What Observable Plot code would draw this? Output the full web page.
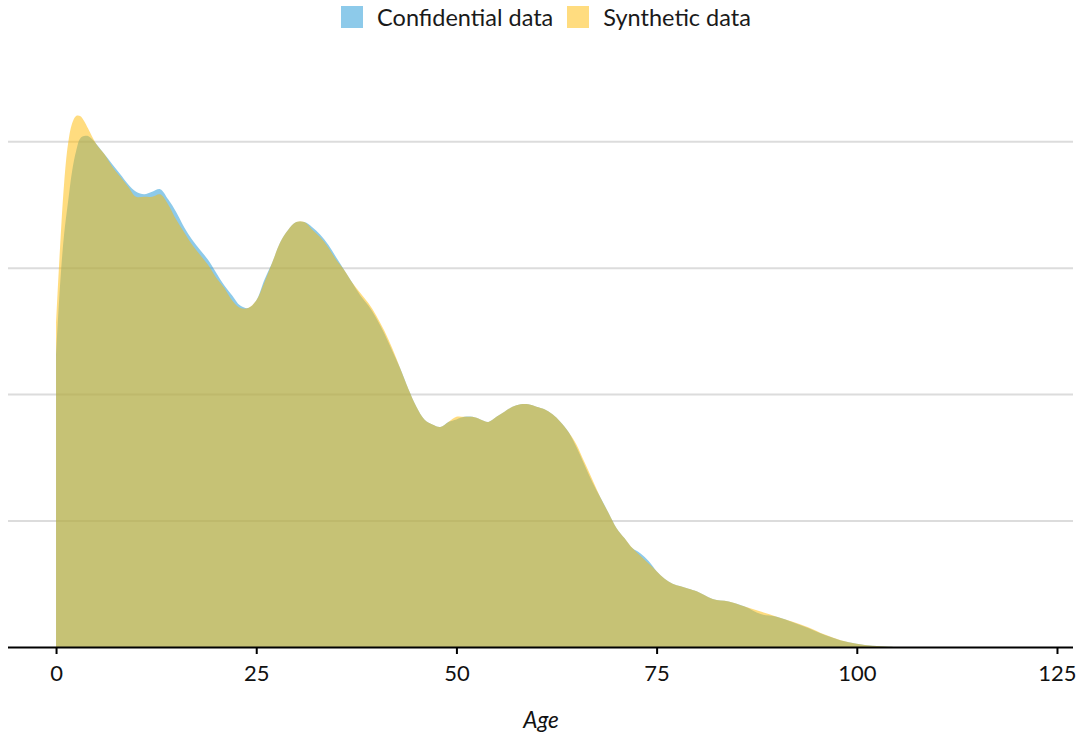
<!DOCTYPE html>
<html>
<head>
<meta charset="utf-8">
<script src="https://cdn.jsdelivr.net/npm/d3@7"></script>
<script src="https://cdn.jsdelivr.net/npm/@observablehq/plot@0.6"></script>
<style>
  body { margin: 0; background: #fff; font-family: Lato, "Noto Sans", sans-serif; }
  #wrap { position: relative; width: 1081px; height: 736px; overflow: hidden; }
  #legend {
    position: absolute; top: 6px; left: 0; width: 1081px; box-sizing: border-box;
    padding-left: 11px; display: flex; justify-content: center; align-items: center;
    gap: 14px; font-size: 23.5px; color: #1a1a1a; line-height: 22px; z-index: 2;
  }
  #legend .item { display: flex; align-items: center; gap: 14px; }
  #legend .sw { width: 22px; height: 22px; display: inline-block; }
  #chart { position: absolute; top: 0; left: 0; }
</style>
</head>
<body>
<div id="wrap">
  <div id="legend"></div>
  <div id="chart"></div>
</div>
<script>
// Kernel density of age, confidential vs synthetic records
const ages = [0, 0.5, 1, 1.5, 2, 2.5, 3, 3.5, 4, 5, 6, 7, 8, 9, 10, 11, 12, 13, 14, 15,
  16, 17, 18, 19, 20, 21, 22, 23, 24, 25, 26, 27, 28, 29, 30, 31, 32, 33, 34, 35,
  36, 37, 38, 39, 40, 41, 42, 43, 44, 45, 46, 47, 48, 49, 50, 51, 52, 53, 54, 55,
  56, 57, 58, 59, 60, 61, 62, 63, 64, 65, 66, 67, 68, 69, 70, 71, 72, 73, 74, 75,
  76, 77, 78, 79, 80, 82, 84, 86, 88, 90, 92, 94, 96, 98, 100, 102, 104, 106];

const confidential = [0.0115, 0.0143, 0.0163, 0.0176, 0.0188, 0.0196, 0.0201, 0.0202, 0.0202, 0.0199,
  0.0195, 0.0191, 0.0187, 0.0183, 0.0180, 0.0179, 0.0180, 0.0181, 0.0177, 0.0172,
  0.0166, 0.0161, 0.0157, 0.0153, 0.0148, 0.0143, 0.0139, 0.0135, 0.0134, 0.0137,
  0.0145, 0.0152, 0.0160, 0.0165, 0.0168, 0.0168, 0.0166, 0.0163, 0.0159, 0.0154,
  0.0149, 0.0144, 0.0139, 0.0135, 0.0130, 0.0124, 0.0117, 0.0110, 0.0102, 0.0095,
  0.0090, 0.0088, 0.0087, 0.0089, 0.0090, 0.0091, 0.0091, 0.0090, 0.0089, 0.0091,
  0.0093, 0.0095, 0.0096, 0.0096, 0.0095, 0.0094, 0.0092, 0.0089, 0.0085, 0.0079,
  0.0072, 0.0065, 0.0059, 0.0053, 0.0047, 0.0043, 0.0039, 0.0037, 0.0034, 0.0030,
  0.0027, 0.0025, 0.0024, 0.0023, 0.0022, 0.0019, 0.0018, 0.0016, 0.0013, 0.0012,
  0.00098, 0.00074, 0.00047, 0.00026, 0.00013, 0.00005, 0.00001, 0];

const synthetic = [0.0128, 0.0158, 0.0183, 0.0199, 0.0207, 0.0210, 0.0210, 0.0208, 0.0205, 0.0199,
  0.0195, 0.0190, 0.0186, 0.0182, 0.0178, 0.0178, 0.0178, 0.0179, 0.0175, 0.0169,
  0.0164, 0.0159, 0.0155, 0.0151, 0.0146, 0.0142, 0.0137, 0.0134, 0.0134, 0.0137,
  0.0144, 0.0152, 0.0160, 0.0165, 0.0168, 0.0168, 0.0165, 0.0162, 0.0158, 0.0153,
  0.0149, 0.0144, 0.0140, 0.0136, 0.0131, 0.0125, 0.0118, 0.0110, 0.0102, 0.0095,
  0.0090, 0.0088, 0.0087, 0.0089, 0.0091, 0.0091, 0.0091, 0.0090, 0.0089, 0.0091,
  0.0093, 0.0095, 0.0096, 0.0096, 0.0095, 0.0094, 0.0092, 0.0089, 0.0085, 0.0080,
  0.0073, 0.0066, 0.0059, 0.0053, 0.0047, 0.0043, 0.0039, 0.0036, 0.0033, 0.0030,
  0.0027, 0.0025, 0.0024, 0.0023, 0.0022, 0.0019, 0.0018, 0.0016, 0.0014, 0.0012,
  0.0010, 0.00077, 0.00049, 0.00027, 0.00013, 0.00005, 0.00001, 0];

const seriesNames = ["Confidential data", "Synthetic data"];
const seriesColors = ["#1b96d6", "#ffba00"];
const seriesOpacity = 0.5;
const xTicks = [0, 25, 50, 75, 100, 125];
const gridValues = [0.005, 0.010, 0.015, 0.020];
const xLabel = "Age";

const toRows = (values) => ages.map((a, i) => ({age: a, density: values[i]}));
const confRows = toRows(confidential);
const synthRows = toRows(synthetic);

// legend
const legend = document.getElementById("legend");
seriesNames.forEach((name, i) => {
  const item = document.createElement("span");
  item.className = "item";
  const sw = document.createElement("span");
  sw.className = "sw";
  sw.style.background = seriesColors[i];
  sw.style.opacity = seriesOpacity;
  const label = document.createElement("span");
  label.textContent = name;
  item.append(sw, label);
  legend.append(item);
});

const chart = Plot.plot({
  width: 1081,
  height: 736,
  marginLeft: 8,
  marginRight: 8,
  marginTop: 40,
  marginBottom: 89,
  style: {fontFamily: "Lato, sans-serif", fontSize: "22px", color: "#111", background: "transparent"},
  x: {domain: [-6, 127]},
  y: {domain: [0, 0.024], axis: null},
  marks: [
    Plot.ruleY(gridValues, {stroke: "#dcdcdc", strokeWidth: 2}),
    Plot.areaY(confRows, {x: "age", y: "density", fill: seriesColors[0], fillOpacity: seriesOpacity, curve: "catmull-rom"}),
    Plot.areaY(synthRows, {x: "age", y: "density", fill: seriesColors[1], fillOpacity: seriesOpacity, curve: "catmull-rom"}),
    Plot.ruleY([0], {stroke: "#000", strokeWidth: 2}),
    Plot.axisX(xTicks, {tickSize: 7, tickPadding: 11, strokeWidth: 2, stroke: "#000", fill: "#111", fontSize: 22, label: null}),
    Plot.text([xLabel], {frameAnchor: "bottom", dy: 80, fontSize: 22.5, fontStyle: "italic", fill: "#111"})
  ]
});
document.getElementById("chart").append(chart);
</script>
</body>
</html>
